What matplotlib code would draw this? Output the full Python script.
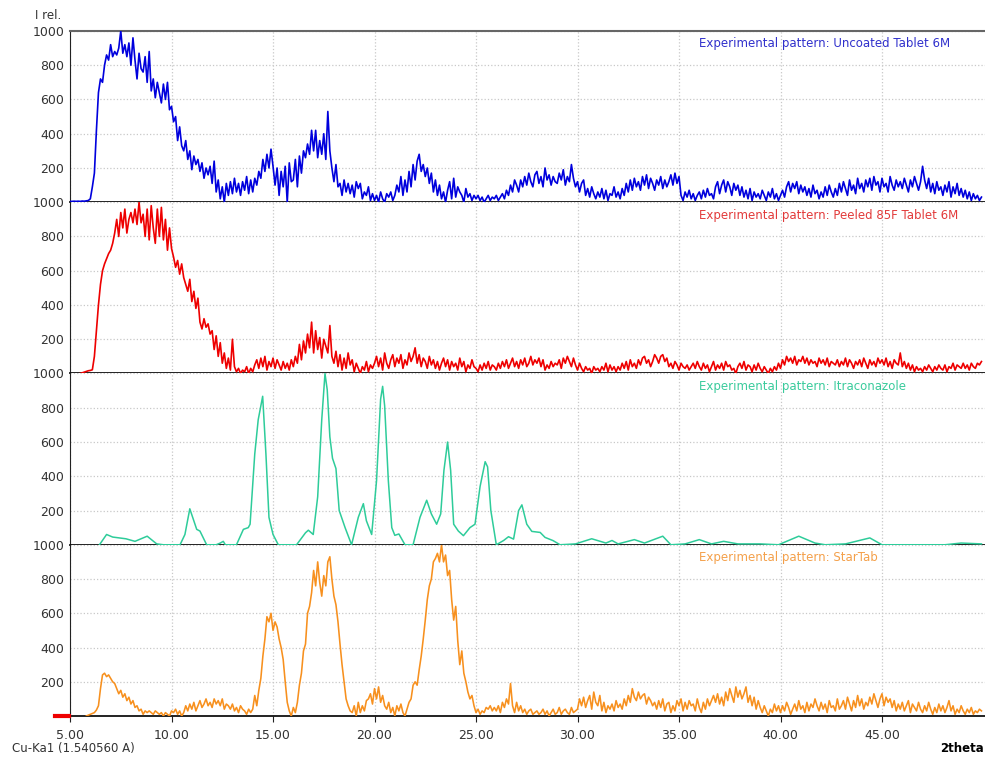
import numpy as np
import matplotlib.pyplot as plt
from matplotlib.lines import Line2D

uncoated_start = 5.0
uncoated = [
    5, 5, 6, 5, 6, 5, 7, 6, 8, 10,
    20, 90, 170, 420, 640, 720, 700, 800, 860, 830,
    920, 850, 880, 860, 900, 1000, 870, 920, 850, 930,
    800, 960, 830, 720, 870, 780, 760, 850, 700, 880,
    650, 720, 610, 700, 640, 580, 690, 600, 700, 540,
    560, 470, 500, 360, 440, 330, 300, 360, 250, 300,
    190, 270, 220, 250, 180, 230, 140, 200, 160, 210,
    110, 240, 60, 130, 20, 90, 0, 110, 40, 120,
    50, 140, 60, 110, 40, 120, 70, 150, 50, 130,
    60, 140, 100, 180, 140, 250, 180, 280, 200, 310,
    210, 100, 200, 40, 180, 90, 210, 0, 230, 120,
    130, 250, 90, 270, 170, 300, 260, 340, 280, 420,
    300, 420, 260, 360, 280, 400, 250, 530, 300, 200,
    120, 220, 90, 110, 40, 130, 60, 110, 50, 100,
    30, 120, 80, 110, 20, 60, 40, 90, 10, 50,
    10, 40, 0, 60, 20, 0, 50, 30, 60, 10,
    40, 100, 60, 150, 40, 130, 60, 180, 90, 220,
    130, 240, 280, 180, 220, 150, 200, 110, 170, 60,
    130, 40, 100, 20, 60, 0, 70, 120, 20, 140,
    30, 90, 60, 40, 0, 80, 30, 50, 10, 40,
    20, 40, 10, 30, 0, 20, 40, 10, 30, 20,
    40, 10, 30, 50, 20, 70, 40, 100, 60, 130,
    100, 60, 130, 90, 150, 100, 170, 120, 90, 160,
    180, 110, 150, 90, 200, 130, 160, 100, 150, 120,
    110, 170, 130, 190, 100, 150, 120, 220, 140, 90,
    120, 60, 110, 130, 40, 80, 30, 90, 50, 20,
    60, 30, 80, 20, 70, 10, 50, 40, 90, 30,
    60, 20, 80, 40, 110, 60, 130, 70, 140, 90,
    120, 70, 150, 100, 160, 80, 140, 110, 70, 130,
    100, 150, 80, 130, 90, 120, 160, 100, 170, 110,
    150, 40, 10, 60, 30, 70, 20, 50, 10, 40,
    60, 20, 70, 30, 80, 40, 50, 20, 90, 120,
    50, 100, 130, 60, 120, 90, 40, 110, 70, 100,
    40, 90, 30, 70, 20, 80, 10, 60, 30, 50,
    20, 70, 40, 10, 60, 30, 80, 20, 50, 10,
    40, 70, 30, 90, 120, 60, 110, 80, 120, 50,
    100, 60, 90, 40, 80, 30, 100, 50, 70, 20,
    60, 30, 90, 40, 100, 60, 30, 80, 40, 110,
    60, 120, 80, 40, 130, 70, 100, 50, 140, 80,
    110, 60, 130, 90, 140, 70, 150, 100, 120, 60,
    140, 90, 110, 60, 150, 100, 70, 130, 90, 120,
    80, 140, 100, 60, 130, 90, 150, 110, 70, 120,
    210, 130, 80, 140, 60, 110, 50, 120, 70, 90,
    40, 100, 60, 120, 30, 90, 50, 110, 40, 80,
    30, 70, 20, 60, 10, 50, 20, 40, 10, 30,
]

peeled_start = 5.5
peeled = [
    0, 4, 8, 12, 16,
    18, 22, 100, 250, 400, 520, 600, 640, 670, 700,
    720, 760, 820, 900, 800, 940, 850, 960, 820, 900,
    940, 880, 960, 870, 1000, 880, 930, 800, 960, 780,
    980, 850, 760, 960, 800, 970, 780, 900, 720, 850,
    730, 680, 620, 660, 580, 640, 560, 520, 480, 550,
    420, 480, 380, 440, 300, 260, 320, 270, 290, 230,
    250, 140, 220, 100, 180, 60, 120, 30, 90, 20,
    200, 40, 10, 30, 0, 20, 10, 40, 0, 30,
    10, 50, 80, 30, 90, 40, 100, 20, 70, 40,
    90, 30, 80, 50, 20, 70, 30, 60, 20, 80,
    40, 100, 60, 170, 80, 190, 120, 230, 150, 300,
    120, 250, 140, 210, 90, 200, 160, 120, 280, 100,
    60, 130, 40, 110, 20, 90, 30, 120, 50, 80,
    10, 60, 30, 0, 40, 20, 70, 10, 50, 30,
    60, 100, 40, 90, 20, 120, 60, 30, 80, 110,
    40, 90, 60, 110, 30, 80, 50, 120, 70, 100,
    150, 60, 110, 40, 90, 70, 30, 100, 50, 80,
    30, 70, 20, 60, 90, 40, 80, 20, 70, 40,
    60, 20, 90, 40, 70, 10, 50, 30, 80, 40,
    30, 10, 50, 20, 60, 30, 70, 20, 50, 40,
    20, 60, 30, 70, 40, 80, 30, 60, 90, 40,
    70, 30, 80, 50, 90, 40, 60, 100, 50, 80,
    60, 90, 40, 80, 20, 50, 30, 70, 40, 60,
    50, 80, 30, 90, 60, 100, 70, 40, 90, 50,
    20, 60, 30, 10, 40, 20, 30, 0, 40, 20,
    30, 10, 40, 20, 60, 10, 50, 20, 40, 10,
    40, 20, 60, 30, 70, 20, 80, 40, 60, 30,
    80, 50, 90, 100, 60, 80, 40, 70, 110, 90,
    60, 100, 110, 70, 90, 40, 60, 30, 70, 50,
    20, 60, 40, 30, 50, 20, 40, 60, 30, 70,
    40, 20, 60, 30, 50, 10, 40, 70, 20, 50,
    30, 60, 20, 70, 40, 50, 20, 30, 0, 40,
    60, 30, 70, 20, 50, 40, 10, 50, 20, 60,
    30, 10, 40, 20, 0, 30, 10, 40, 20, 60,
    30, 80, 50, 100, 70, 90, 60, 100, 50, 80,
    70, 100, 60, 90, 50, 80, 60, 70, 40, 90,
    60, 80, 50, 90, 40, 70, 60, 50, 80, 40,
    70, 50, 90, 40, 80, 60, 30, 70, 50, 80,
    40, 90, 60, 30, 80, 50, 70, 40, 90, 60,
    80, 50, 90, 40, 70, 30, 80, 60, 50, 120,
    40, 70, 30, 60, 20, 50, 10, 40, 20, 30,
    10, 40, 20, 50, 30, 10, 40, 20, 50, 30,
    20, 50, 10, 40, 30, 60, 20, 50, 40, 30,
    60, 30, 50, 20, 60, 40, 30, 60, 50, 70,
]

# itraconazole reference pattern: vertices of the smooth trace
itra_x = [6.45, 6.8, 7.1, 7.75, 8.2, 8.8, 9.27, 9.6, 10.42, 10.66,
          10.9, 11.24, 11.4, 11.73, 12.2, 12.4, 12.55, 12.65, 13.2, 13.54,
          13.78, 13.87, 14.1, 14.27, 14.49, 14.65, 14.8, 15.0, 15.26, 16.16,
          16.6, 16.74, 16.98, 17.2, 17.4, 17.56, 17.67, 17.8, 17.93, 18.1,
          18.26, 18.55, 18.87, 19.2, 19.45, 19.6, 19.86, 20.1, 20.3, 20.4,
          20.5, 20.68, 20.85, 21.0, 21.2, 21.5, 21.9, 22.24, 22.57, 22.8,
          23.06, 23.26, 23.42, 23.6, 23.75, 23.9, 24.13, 24.38, 24.7, 24.95,
          25.2, 25.45, 25.57, 25.73, 26.0, 26.36, 26.6, 26.85, 27.1, 27.26,
          27.5, 27.75, 28.16, 28.4, 28.8, 29.14, 29.9, 30.7, 31.4, 31.7,
          32.0, 32.8, 33.3, 34.2, 34.6, 35.3, 36.0, 36.6, 37.2, 37.9,
          39.0, 39.9, 40.9, 41.7, 42.2, 43.2, 44.4, 45.0, 48.1, 48.9, 49.9]
itra_y = [0, 60, 45, 35, 20, 50, 5, 0, 0, 60,
          210, 90, 80, 0, 0, 10, 20, 0, 0, 90,
          100, 120, 530, 730, 867, 530, 160, 60, 0, 0,
          70, 85, 60, 280, 730, 1000, 905, 630, 505, 445,
          200, 100, 0, 160, 240, 140, 60, 375, 850, 925,
          810, 375, 100, 55, 63, 0, 0, 160, 260, 180,
          120, 180, 435, 600, 435, 120, 80, 53, 100, 120,
          340, 485, 455, 200, 0, 25, 47, 33, 200, 233,
          120, 78, 72, 43, 24, 0, 5, 35, 10, 25,
          5, 30, 10, 50, 0, 5, 30, 5, 20, 5,
          5, 0, 50, 10, 0, 5, 40, 0, 0, 10, 5]

startab_start = 5.8
startab = [
    0, 5,
    10, 15, 20, 35, 60, 160, 240, 250, 230, 240,
    220, 200, 190, 160, 130, 150, 110, 130, 90, 110,
    70, 90, 50, 60, 30, 40, 10, 30, 20, 30,
    20, 10, 30, 20, 10, 20, 0, 20, 10, 0,
    30, 20, 40, 10, 30, 0, 20, 60, 30, 70,
    40, 80, 30, 60, 90, 50, 70, 100, 60, 80,
    50, 100, 70, 90, 60, 100, 40, 70, 60, 40,
    70, 30, 50, 20, 60, 40, 30, 10, 40, 20,
    40, 120, 60, 150, 220, 350, 450, 580, 550, 600,
    500, 550, 520, 450, 400, 330, 200, 80, 30, 0,
    50, 20, 80, 180, 250, 380, 420, 600, 640, 720,
    850, 760, 900, 780, 700, 820, 760, 900, 930, 800,
    700, 650, 550, 420, 300, 200, 100, 60, 30, 20,
    60, 0, 80, 20, 60, 30, 90, 100, 130, 70,
    160, 100, 170, 80, 120, 60, 40, 80, 20, 50,
    0, 60, 30, 70, 20, 0, 40, 80, 100, 180,
    200, 180, 270, 350, 450, 560, 680, 760, 800, 900,
    920, 950, 900, 1000, 900, 940, 820, 850, 680, 560,
    640, 440, 300, 380, 250, 200, 140, 100, 120, 60,
    20, 40, 10, 30, 20, 50, 40, 60, 30, 50,
    30, 60, 20, 80, 50, 100, 70, 190, 60, 20,
    80, 30, 60, 20, 40, 10, 30, 40, 10, 20,
    30, 10, 20, 40, 10, 30, 0, 20, 40, 10,
    20, 50, 10, 30, 40, 20, 10, 50, 20, 30,
    40, 100, 60, 110, 50, 90, 120, 40, 140, 80,
    60, 120, 30, 80, 20, 60, 40, 70, 30, 90,
    50, 70, 40, 100, 60, 120, 80, 160, 110, 90,
    140, 100, 120, 130, 70, 110, 90, 60, 80, 40,
    90, 50, 100, 30, 70, 80, 20, 60, 30, 90,
    60, 100, 30, 80, 40, 90, 60, 70, 30, 100,
    50, 20, 80, 40, 100, 60, 90, 120, 80, 130,
    70, 110, 60, 140, 90, 160, 120, 80, 170, 110,
    150, 100, 130, 170, 80, 120, 60, 110, 40, 90,
    50, 20, 60, 30, 0, 40, 20, 70, 30, 60,
    20, 60, 30, 80, 50, 10, 40, 70, 30, 90,
    40, 60, 20, 80, 30, 70, 50, 100, 60, 30,
    80, 40, 70, 20, 90, 50, 60, 30, 100, 40,
    60, 90, 40, 110, 70, 30, 90, 50, 120, 60,
    100, 40, 80, 60, 110, 70, 130, 90, 50, 100,
    130, 60, 110, 80, 100, 50, 90, 30, 70, 40,
    80, 30, 60, 90, 20, 70, 50, 30, 80, 40,
    20, 60, 30, 80, 40, 10, 50, 20, 70, 30,
    60, 20, 50, 90, 30, 60, 10, 40, 20, 60,
    30, 10, 40, 20, 50, 10, 30, 20, 40, 30,
]

labels = ["Experimental pattern: Uncoated Tablet 6M",
          "Experimental pattern: Peeled 85F Tablet 6M",
          "Experimental pattern: Itraconazole",
          "Experimental pattern: StarTab"]
line_colors = ["#0000dd", "#ee0000", "#2ecc9a", "#f7901e"]
text_colors = ["#3030cc", "#e23a3a", "#3acb9c", "#f4a04a"]
line_widths = [1.2, 1.2, 1.1, 1.15]

xticks = [5, 10, 15, 20, 25, 30, 35, 40, 45]
yticks = [200, 400, 600, 800, 1000]


def scan(start, values):
    return start + 0.1 * np.arange(len(values)), np.array(values)


series = [scan(uncoated_start, uncoated),
          scan(peeled_start, peeled),
          (np.array(itra_x), np.array(itra_y)),
          scan(startab_start, startab)]

fig = plt.figure(figsize=(9.85, 7.61), dpi=100)
axes = fig.subplots(4, 1, sharex=True, gridspec_kw=dict(hspace=0))
fig.subplots_adjust(left=0.0711, right=0.9995, top=0.9593, bottom=0.0591)

for i, ax in enumerate(axes):
    x, y = series[i]
    ax.plot(x, y, color=line_colors[i], lw=line_widths[i], zorder=3)
    ax.set_xlim(5, 50.05)
    ax.set_ylim(0, 1000)
    ax.set_yticks(yticks)
    ax.set_yticklabels([str(v) for v in yticks])
    ax.set_xticks(xticks)
    ax.grid(True, color="#c8c8c8", linestyle=":", linewidth=0.9)
    ax.tick_params(axis="y", length=0, pad=4, labelsize=9, labelcolor="#333333")
    ax.spines["right"].set_visible(False)
    ax.spines["left"].set_color("#222222")
    ax.spines["bottom"].set_color("#111111")
    ax.spines["bottom"].set_linewidth(1.3)
    if i == 0:
        ax.spines["top"].set_color("#666666")
        ax.spines["top"].set_linewidth(1.5)
    else:
        ax.spines["top"].set_visible(False)
    if i < 3:
        ax.tick_params(axis="x", bottom=False, labelbottom=False)
    ax.text(36.0, 1 - 13 / 171.5, labels[i], color=text_colors[i], fontsize=8.5,
            va="center", ha="left", transform=ax.get_xaxis_transform())

axes[3].set_xticklabels(["%.2f" % v for v in xticks])
axes[3].tick_params(axis="x", length=4, direction="out", labelsize=9,
                    labelcolor="#333333", color="#222222", pad=5)

fig.text(0.036, 0.979, "I rel.", fontsize=8.5, color="#333333", va="center")
fig.text(0.012, 0.012, "Cu-Ka1 (1.540560 A)", fontsize=8.5, color="#333333")
fig.text(0.999, 0.012, "2theta", fontsize=8.5, weight="bold", ha="right")
fig.add_artist(Line2D([55 / 985, 69 / 985], [0.0591, 0.0591], color="#ee0000", lw=3))

fig.savefig("out.png", dpi=100)
